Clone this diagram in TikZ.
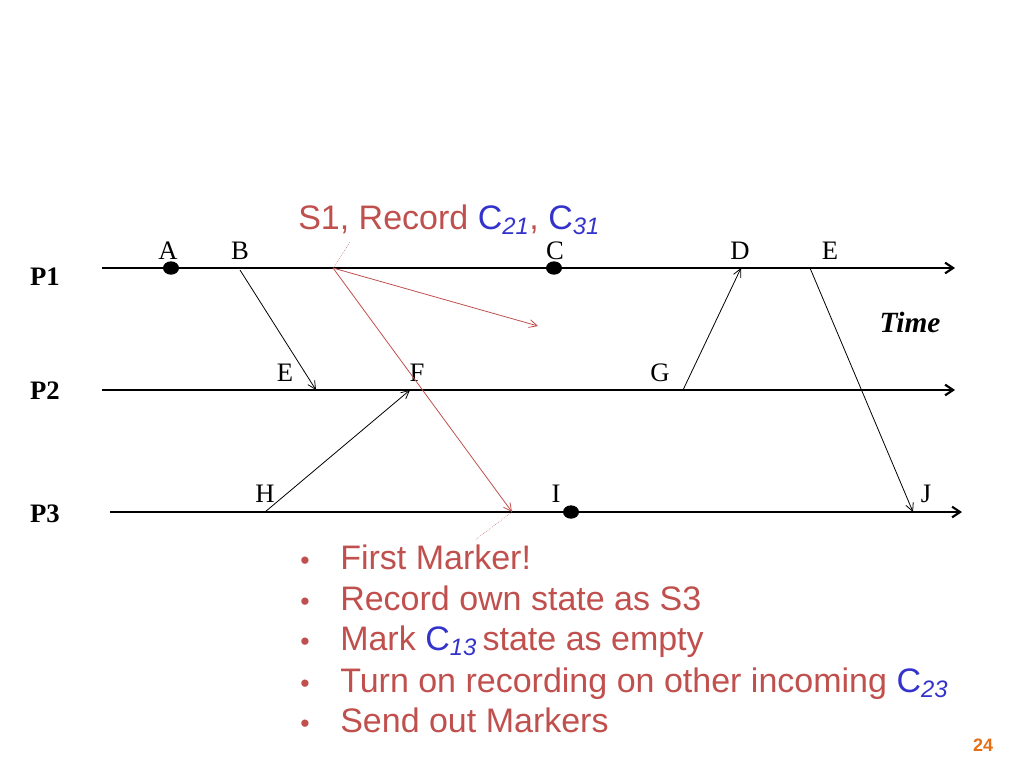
\documentclass[tikz,border=0pt]{standalone}
\usepackage{fontspec}
\setmainfont{Liberation Serif}
\newfontfamily\arial{Liberation Sans}
\usetikzlibrary{arrows.meta,shapes.geometric}
\definecolor{pred}{RGB}{192,80,77}
\definecolor{pblue}{RGB}{51,51,204}
\definecolor{porange}{RGB}{230,110,20}
\newcommand{\csub}[2]{\textcolor{pblue}{#1\textsubscript{\itshape #2}}}
\begin{document}
\begin{tikzpicture}[x=0.75pt,y=-0.75pt,
  tl/.style={line width=1.6pt,-{Straight Barb[length=6pt,width=8pt]}},
  msg/.style={line width=0.6pt,-{Straight Barb[length=6pt,width=6pt]}},
  rmsg/.style={msg,draw=pred},
  lbl/.style={font=\fontsize{20}{22}\selectfont,inner sep=0pt},
  plbl/.style={font=\fontsize{20}{22}\selectfont\bfseries,inner sep=0pt},
  ev/.style={ellipse,fill=black,minimum width=12pt,minimum height=10pt,inner sep=0pt},
  leader/.style={densely dotted,draw=pred,line width=0.4pt},
  btxt/.style={font=\arial\fontsize{25.5}{28}\selectfont,text=pred,anchor=base west,inner sep=0pt}]
\useasboundingbox (0,0) rectangle (1024,768);
% timelines
\coordinate (p1s) at (102,268); \coordinate (p1e) at (955,268);
\coordinate (p2s) at (102,390); \coordinate (p2e) at (955,390);
\coordinate (p3s) at (110,512); \coordinate (p3e) at (962,512);
\draw[tl] (p1s) -- (p1e);
\draw[tl] (p2s) -- (p2e);
\draw[tl] (p3s) -- (p3e);
\node[plbl] (P1) at (45,277) {P1};
\node[plbl] (P2) at (45,391) {P2};
\node[plbl] (P3) at (45,514) {P3};
\node[lbl,font=\fontsize{22}{24}\selectfont\bfseries\itshape] (time) at (910,322) {Time};
% events
\node[ev] (dA) at (171,268) {};
\node[ev] (dC) at (554,268) {};
\node[ev] (dI) at (571,512) {};
\node[lbl] (A) at (168,251) {A};
\node[lbl] (B) at (240,251) {B};
\node[lbl] (C) at (555,251) {C};
\node[lbl] (D) at (740,251) {D};
\node[lbl] (E1) at (830,251) {E};
\node[lbl] (E2) at (285,373) {E};
\node[lbl] (F) at (417,373) {F};
\node[lbl] (G) at (660,373) {G};
\node[lbl] (H) at (265,494) {H};
\node[lbl] (I) at (556,494) {I};
\node[lbl] (J) at (926,494) {J};
% message endpoints
\coordinate (b) at (240,270); \coordinate (e) at (316,390);
\coordinate (h) at (265,512); \coordinate (f) at (410,390);
\coordinate (g) at (683,390); \coordinate (d) at (741,268);
\coordinate (e1) at (810,268); \coordinate (j) at (913,512);
\coordinate (s1) at (333,268); \coordinate (r1) at (538,326); \coordinate (r3) at (512,512);
\draw[msg] (b) -- (e);
\draw[msg] (h) -- (f);
\draw[msg] (g) -- (d);
\draw[msg] (e1) -- (j);
\draw[rmsg] (s1) -- (r1);
\draw[rmsg] (s1) -- (r3);
% annotations
\node[btxt] (s1t) at (298,229) {S1, Record \csub{C}{21}, \csub{C}{31}};
\coordinate (l1) at (350,242);
\draw[leader] (s1) -- (l1);
\coordinate (l3) at (475,540);
\draw[leader] (r3) -- (l3);
\node[btxt] (t1) at (340,569) {First Marker!};
\node[btxt] (t2) at (340,610) {Record own state as S3};
\node[btxt] (t3) at (340,650) {Mark \csub{C}{13}\,state as empty};
\node[btxt] (t4) at (340,692) {Turn on recording on other incoming \csub{C}{23}};
\node[btxt] (t5) at (340,732) {Send out Markers};
\foreach \y in {569,610,650,692,732} \node[btxt,font=\arial\fontsize{20}{22}\selectfont] at (300,\y) {•};
\node[font=\arial\fontsize{13.5}{15}\selectfont\bfseries,text=porange,inner sep=0pt] (pg) at (983,745) {24};
\end{tikzpicture}
\end{document}
